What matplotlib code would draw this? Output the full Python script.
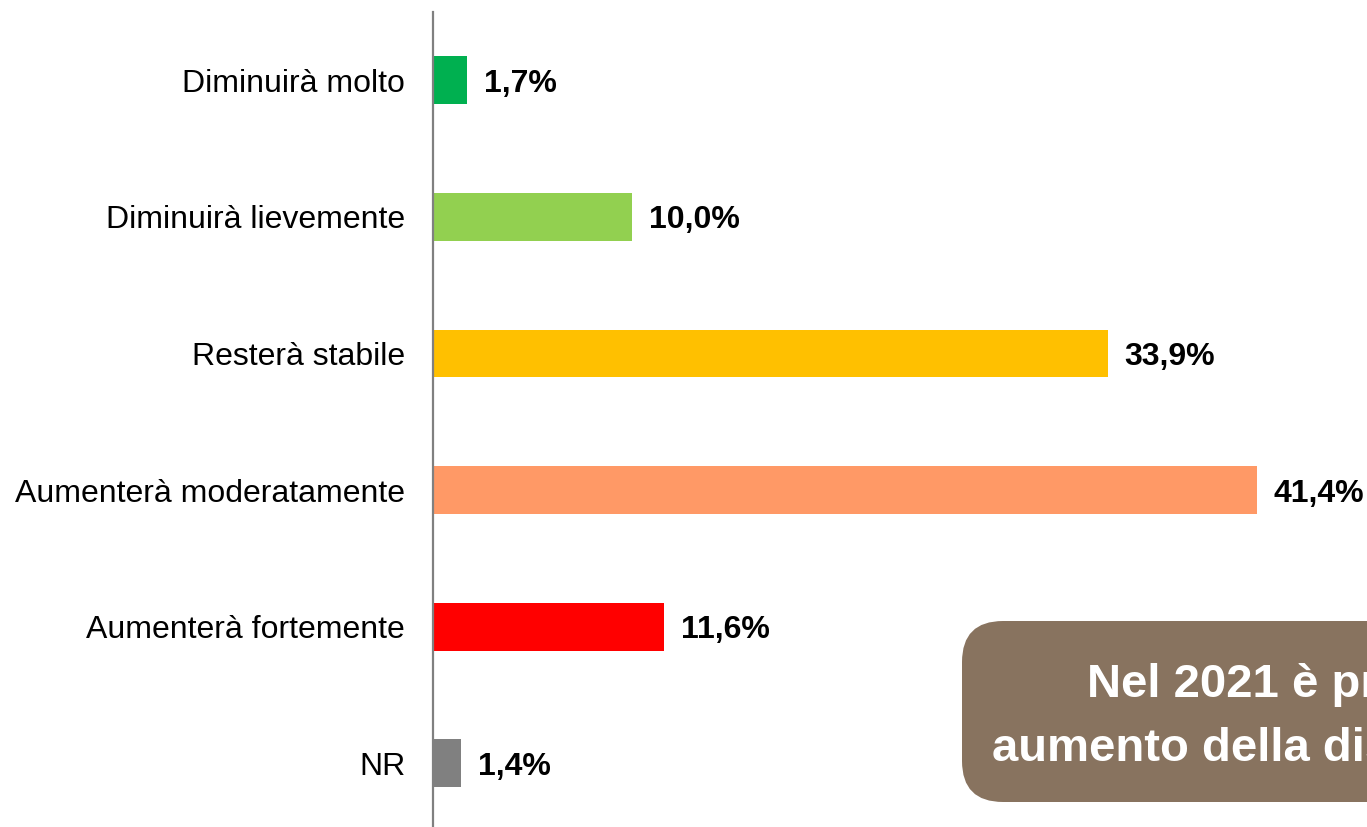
import matplotlib.pyplot as plt
from matplotlib.patches import FancyBboxPatch

plt.rcParams['font.family'] = ['Liberation Sans', 'DejaVu Sans']

categories = ['Diminuirà molto', 'Diminuirà lievemente', 'Resterà stabile',
              'Aumenterà moderatamente', 'Aumenterà fortemente', 'NR']
values = [1.7, 10.0, 33.9, 41.4, 11.6, 1.4]
labels = ['1,7%', '10,0%', '33,9%', '41,4%', '11,6%', '1,4%']
colors = ['#00B050', '#92D050', '#FFC000', '#FF9966', '#FF0000', '#808080']
box_lines = ['Nel 2021 è previsto un', 'aumento della disponibilità']

W, H = 1367, 827
fig = plt.figure(figsize=(W / 100, H / 100), dpi=100)

# axes: left edge on the gray axis line, top 12px from the top, down to the bottom
ax = fig.add_axes([433 / W, 0, (W - 433) / W, (H - 12) / H])
ypos = list(range(len(categories)))
ax.barh(ypos, values, height=0.35, color=colors)
ax.set_xlim(0, (W - 433) / 19.9)
ax.set_ylim(-0.5 + 815 / 136.6, -0.5)

for y, v, lab in zip(ypos, values, labels):
    ax.text(v + 0.85, y, lab, va='center_baseline', ha='left', fontsize=23,
            fontweight='bold')

ax.set_yticks(ypos)
ax.set_yticklabels(categories, fontsize=23)
ax.tick_params(axis='y', length=0, pad=20)
ax.set_xticks([])
for s in ['top', 'right', 'bottom']:
    ax.spines[s].set_visible(False)
ax.spines['left'].set_color('#808080')
ax.spines['left'].set_linewidth(1.6)

# brown callout box, cut by the right edge
box = FancyBboxPatch((962 / W, (H - 802) / H), 500 / W, 181 / H,
                     boxstyle='round,pad=0,rounding_size=0.03',
                     transform=fig.transFigure, facecolor='#88735F',
                     edgecolor='none', mutation_aspect=W / H)
fig.patches.append(box)
fig.text(1087 / W, (H - 697) / H, box_lines[0], color='white', fontsize=34,
         fontweight='bold', ha='left', va='baseline')
fig.text(992 / W, (H - 761) / H, box_lines[1], color='white', fontsize=34,
         fontweight='bold', ha='left', va='baseline')

fig.savefig('out.png', dpi=100)
